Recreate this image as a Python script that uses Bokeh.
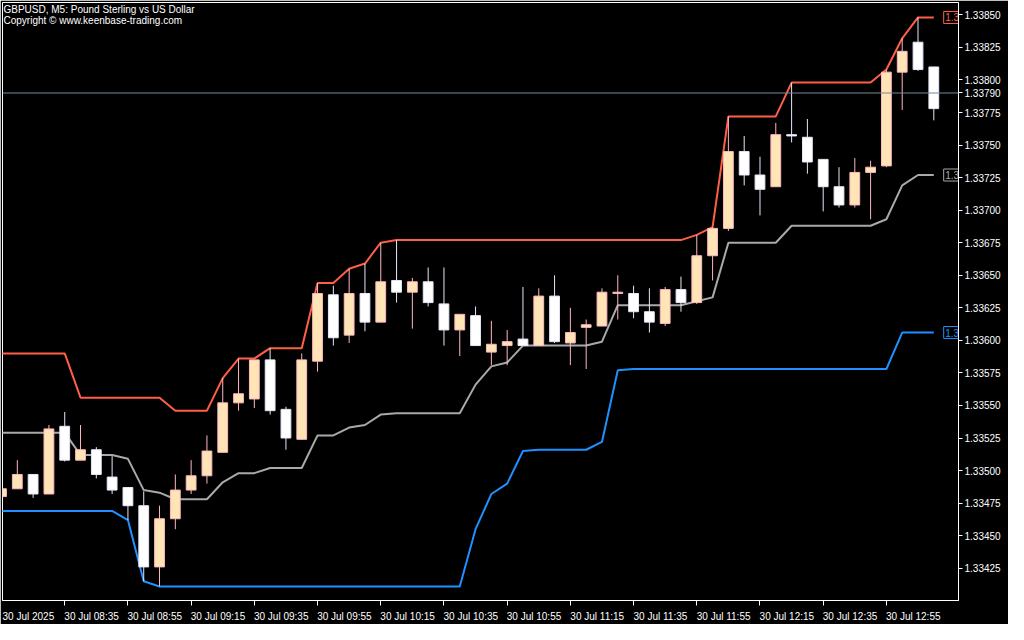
import numpy as np
from bokeh.plotting import figure
from bokeh.models import (Range1d, FixedTicker, PrintfTickFormatter, Span, Label,
                          ColumnDataSource)
from bokeh.embed import file_html
from bokeh.resources import INLINE
from bokeh.core.properties import value

# ---------------- data ----------------
chart_title = "GBPUSD, M5:  Pound Sterling vs US Dollar"
chart_copyright = "Copyright © www.keenbase-trading.com"

opens = [1.33480, 1.33486, 1.33497, 1.33482, 1.33534, 1.33508, 1.33516, 1.33495, 1.33487, 1.33473,
         1.33426, 1.33463, 1.33485, 1.33496, 1.33514, 1.33552, 1.33555, 1.33585, 1.33547, 1.33524,
         1.33584, 1.33635, 1.33604, 1.33636, 1.33614, 1.33646, 1.33637, 1.33645, 1.33628, 1.33608,
         1.33619, 1.33591, 1.33596, 1.33601, 1.33596, 1.33634, 1.33598, 1.33610, 1.33611, 1.33636,
         1.33636, 1.33622, 1.33613, 1.33639, 1.33629, 1.33665, 1.33686, 1.33745, 1.33727, 1.33718,
         1.33758, 1.33756, 1.33739, 1.33718, 1.33704, 1.33729, 1.33734, 1.33806, 1.33829, 1.33810]
highs = [1.33486, 1.33508, 1.33497, 1.33535, 1.33545, 1.33535, 1.33518, 1.33511, 1.33487, 1.33484,
         1.33473, 1.33497, 1.33508, 1.33527, 1.33571, 1.33586, 1.33585, 1.33594, 1.33549, 1.33590,
         1.33644, 1.33642, 1.33655, 1.33659, 1.33675, 1.33677, 1.33648, 1.33656, 1.33656, 1.33620,
         1.33626, 1.33615, 1.33608, 1.33641, 1.33640, 1.33650, 1.33625, 1.33616, 1.33640, 1.33650,
         1.33642, 1.33640, 1.33641, 1.33649, 1.33681, 1.33687, 1.33772, 1.33757, 1.33741, 1.33767,
         1.33798, 1.33770, 1.33739, 1.33733, 1.33740, 1.33738, 1.33808, 1.33832, 1.33848, 1.33810]
lows = [1.33480, 1.33486, 1.33479, 1.33482, 1.33507, 1.33508, 1.33494, 1.33482, 1.33462, 1.33415,
        1.33411, 1.33455, 1.33482, 1.33490, 1.33514, 1.33546, 1.33548, 1.33543, 1.33516, 1.33524,
        1.33576, 1.33596, 1.33598, 1.33607, 1.33614, 1.33629, 1.33609, 1.33626, 1.33596, 1.33588,
        1.33596, 1.33581, 1.33581, 1.33596, 1.33596, 1.33598, 1.33581, 1.33578, 1.33611, 1.33616,
        1.33617, 1.33606, 1.33611, 1.33622, 1.33628, 1.33646, 1.33684, 1.33719, 1.33696, 1.33718,
        1.33752, 1.33728, 1.33699, 1.33702, 1.33702, 1.33693, 1.33733, 1.33777, 1.33807, 1.33769]
closes = [1.33486, 1.33497, 1.33482, 1.33532, 1.33508, 1.33516, 1.33497, 1.33485, 1.33473, 1.33426,
          1.33463, 1.33485, 1.33496, 1.33515, 1.33552, 1.33559, 1.33585, 1.33546, 1.33525, 1.33585,
          1.33636, 1.33602, 1.33636, 1.33614, 1.33645, 1.33637, 1.33645, 1.33629, 1.33608, 1.33620,
          1.33596, 1.33597, 1.33599, 1.33596, 1.33634, 1.33599, 1.33606, 1.33612, 1.33637, 1.33637,
          1.33622, 1.33614, 1.33639, 1.33629, 1.33665, 1.33686, 1.33745, 1.33727, 1.33716, 1.33758,
          1.33757, 1.33737, 1.33718, 1.33704, 1.33729, 1.33733, 1.33806, 1.33822, 1.33808, 1.33778]

upper = [1.33590, 1.33590, 1.33590, 1.33590, 1.33590, 1.33556, 1.33556, 1.33556, 1.33556, 1.33556,
         1.33556, 1.33546, 1.33546, 1.33546, 1.33571, 1.33586, 1.33586, 1.33594, 1.33594, 1.33594,
         1.33644, 1.33644, 1.33655, 1.33659, 1.33675, 1.33677, 1.33677, 1.33677, 1.33677, 1.33677,
         1.33677, 1.33677, 1.33677, 1.33677, 1.33677, 1.33677, 1.33677, 1.33677, 1.33677, 1.33677,
         1.33677, 1.33677, 1.33677, 1.33677, 1.33681, 1.33687, 1.33772, 1.33772, 1.33772, 1.33772,
         1.33798, 1.33798, 1.33798, 1.33798, 1.33798, 1.33798, 1.33808, 1.33832, 1.33848, 1.33848]
middle = [1.33529, 1.33529, 1.33529, 1.33529, 1.33529, 1.33512, 1.33512, 1.33512, 1.33509, 1.33485,
          1.33483, 1.33478, 1.33478, 1.33478, 1.33491, 1.33498, 1.33498, 1.33502, 1.33502, 1.33502,
          1.33527, 1.33527, 1.33533, 1.33535, 1.33543, 1.33544, 1.33544, 1.33544, 1.33544, 1.33544,
          1.33566, 1.33580, 1.33583, 1.33596, 1.33596, 1.33596, 1.33596, 1.33596, 1.33599, 1.33627,
          1.33627, 1.33627, 1.33627, 1.33627, 1.33630, 1.33633, 1.33675, 1.33675, 1.33675, 1.33675,
          1.33688, 1.33688, 1.33688, 1.33688, 1.33688, 1.33688, 1.33693, 1.33719, 1.33727, 1.33727]
lower = [1.33469, 1.33469, 1.33469, 1.33469, 1.33469, 1.33469, 1.33469, 1.33469, 1.33462, 1.33415,
         1.33411, 1.33411, 1.33411, 1.33411, 1.33411, 1.33411, 1.33411, 1.33411, 1.33411, 1.33411,
         1.33411, 1.33411, 1.33411, 1.33411, 1.33411, 1.33411, 1.33411, 1.33411, 1.33411, 1.33411,
         1.33455, 1.33482, 1.33490, 1.33515, 1.33516, 1.33516, 1.33516, 1.33516, 1.33522, 1.33577,
         1.33578, 1.33578, 1.33578, 1.33578, 1.33578, 1.33578, 1.33578, 1.33578, 1.33578, 1.33578,
         1.33578, 1.33578, 1.33578, 1.33578, 1.33578, 1.33578, 1.33578, 1.33606, 1.33606, 1.33606]

time_tick_labels = ["30 Jul 2025", "30 Jul 08:35", "30 Jul 08:55", "30 Jul 09:15", "30 Jul 09:35",
                    "30 Jul 09:55", "30 Jul 10:15", "30 Jul 10:35", "30 Jul 10:55", "30 Jul 11:15",
                    "30 Jul 11:35", "30 Jul 11:55", "30 Jul 12:15", "30 Jul 12:35", "30 Jul 12:55"]
bars_per_time_tick = 4
price_tick_values = [1.33425, 1.33450, 1.33475, 1.33500, 1.33525, 1.33550, 1.33575, 1.33600,
                     1.33625, 1.33650, 1.33675, 1.33700, 1.33725, 1.33750, 1.33775, 1.33800,
                     1.33825, 1.33850]
current_price = 1.33790

# ---------------- styling ----------------
FONT = "Liberation Sans"
BULL_FILL, BULL_LINE = "#FFE4B5", "#FFB6C1"
BEAR_FILL, BEAR_LINE = "#FFFFFF", "#E6E6FA"
UPPER_C, MIDDLE_C, LOWER_C = "#FF5F45", "#A9A9A9", "#1E90FF"
PRICE_LINE_C = "#778899"
LABEL_SHIFT = 1.7   # centre of a time label, in bars right of its tick (labels start at the tick)

n = len(opens)
idx = np.arange(n)
o = np.array(opens); c = np.array(closes)
bull = c >= o

src = ColumnDataSource(dict(
    x=idx, high=highs, low=lows,
    top=np.maximum(o, c), bottom=np.minimum(o, c),
    fill=[BULL_FILL if b else BEAR_FILL for b in bull],
    line=[BULL_LINE if b else BEAR_LINE for b in bull],
))

x_start, x_end = 0.0625, n + 0.5625
y_start, y_end = 1.334002, 1.338595

p = figure(width=1008, height=624, output_backend="svg", toolbar_location=None,
           x_range=Range1d(x_start, x_end), y_range=Range1d(y_start, y_end),
           y_axis_location="right",
           min_border_left=2, min_border_top=2, min_border_right=50, min_border_bottom=22)
p.background_fill_color = "black"
p.border_fill_color = "black"
p.outline_line_color = "white"
p.outline_line_width = 1
p.grid.visible = False

# right price axis (current price shown as an extra labelled tick)
ya = p.yaxis[0]
ya.ticker = FixedTicker(ticks=price_tick_values + [current_price])
ya.formatter = PrintfTickFormatter(format="%.5f")
ya.major_label_text_color = "white"
ya.major_label_text_font = FONT
ya.major_label_text_font_size = "10px"
ya.major_tick_out = 4
ya.major_tick_in = 0
ya.minor_tick_out = 0
ya.minor_tick_in = 0
ya.axis_line_color = "white"
ya.major_tick_line_color = "white"
ya.major_label_standoff = 2

# bottom time axis: tick marks as minor ticks, labels placed to start at their tick
time_tick_pos = [i * bars_per_time_tick for i in range(len(time_tick_labels))]
label_pos = [t + LABEL_SHIFT for t in time_tick_pos]
xa = p.xaxis[0]
xa.ticker = FixedTicker(ticks=label_pos, minor_ticks=time_tick_pos)
xa.major_label_overrides = {lp: lab for lp, lab in zip(label_pos, time_tick_labels)}
xa.major_label_text_color = "white"
xa.major_label_text_font = FONT
xa.major_label_text_font_size = "10px"
xa.major_label_standoff = 5
xa.major_tick_out = 0
xa.major_tick_in = 0
xa.minor_tick_out = 5
xa.minor_tick_in = 0
xa.minor_tick_line_color = "white"
xa.axis_line_color = "white"

# current price line
p.add_layout(Span(location=current_price, dimension="width", line_color=PRICE_LINE_C, line_width=1))

# channel lines
p.line(idx, upper, line_color=UPPER_C, line_width=2)
p.line(idx, middle, line_color=MIDDLE_C, line_width=2)
p.line(idx, lower, line_color=LOWER_C, line_width=2)

# candles
p.segment(x0="x", y0="low", x1="x", y1="high", line_color="line", line_width=1, source=src)
p.vbar(x="x", width=0.62, top="top", bottom="bottom", fill_color="fill", line_color="line",
       line_width=1, source=src)

# indicator value boxes at right edge (clipped by frame like MT5)
for series, col in ((upper, UPPER_C), (middle, MIDDLE_C), (lower, LOWER_C)):
    last = series[-1]
    p.rect(x=[n - 1 + 1.1], y=[last], width=0.95, height=12, height_units="screen",
           fill_color="black", line_color=col, line_width=1)
    p.text(x=[n - 1 + 0.72], y=[last], text=["%.5f" % last], text_color=col,
           text_font=value(FONT), text_font_size="10px", text_baseline="middle", text_align="left")

# title texts
p.add_layout(Label(x=x_start, y=y_end, x_offset=1, y_offset=-1, text=chart_title,
                   text_color="white", text_font=FONT, text_font_size="10px",
                   text_baseline="top", text_align="left"))
p.add_layout(Label(x=x_start, y=y_end, x_offset=1, y_offset=-12, text=chart_copyright,
                   text_color="white", text_font=FONT, text_font_size="10px",
                   text_baseline="top", text_align="left"))

open("out.html", "w").write(file_html(p, INLINE))
